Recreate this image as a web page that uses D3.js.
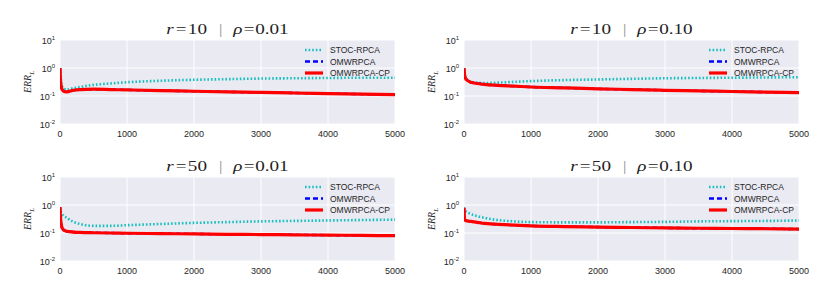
<!DOCTYPE html>
<html>
<head>
<meta charset="utf-8">
<script src="https://cdn.jsdelivr.net/npm/d3@7"></script>
<style>
  body { margin: 0; background: #fff; }
  svg { display: block; }
</style>
</head>
<body>
<svg id="chart" width="830" height="297"></svg>
<script>
'use strict';

// Data Inputs
const steps = [0, 10, 25, 50, 100, 200, 300, 500, 750, 1000, 1500, 2000, 2500, 3000, 3500, 4000, 4500, 5000];
const seriesNames = ['STOC-RPCA', 'OMWRPCA', 'OMWRPCA-CP'];
const panelRanks = [10, 10, 50, 50];
const panelRhos  = ['0.01', '0.10', '0.01', '0.10'];
const xTicks = [0, 1000, 2000, 3000, 4000, 5000];
const yTickExps = [1, 0, -1, -2];

// r = 10, rho = 0.01
const stoc_r10_p01  = [1.0, 0.45, 0.25, 0.19, 0.17, 0.19, 0.21, 0.25, 0.28, 0.31, 0.35, 0.38, 0.40, 0.42, 0.43, 0.44, 0.45, 0.45];
const omw_r10_p01   = [1.0, 0.30, 0.19, 0.15, 0.14, 0.16, 0.17, 0.175, 0.17, 0.165, 0.155, 0.148, 0.14, 0.134, 0.128, 0.122, 0.117, 0.112];
const omwcp_r10_p01 = [1.0, 0.30, 0.19, 0.15, 0.14, 0.16, 0.17, 0.175, 0.17, 0.165, 0.155, 0.148, 0.14, 0.135, 0.128, 0.122, 0.117, 0.112];

// r = 10, rho = 0.10
const stoc_r10_p10  = [1.0, 0.60, 0.45, 0.38, 0.33, 0.30, 0.29, 0.30, 0.32, 0.34, 0.37, 0.39, 0.41, 0.43, 0.44, 0.45, 0.46, 0.47];
const omw_r10_p10   = [1.0, 0.55, 0.42, 0.36, 0.31, 0.28, 0.26, 0.24, 0.225, 0.21, 0.195, 0.18, 0.17, 0.16, 0.152, 0.145, 0.138, 0.131];
const omwcp_r10_p10 = [1.0, 0.55, 0.42, 0.36, 0.31, 0.28, 0.26, 0.24, 0.225, 0.21, 0.195, 0.18, 0.17, 0.16, 0.152, 0.145, 0.138, 0.132];

// r = 50, rho = 0.01
const stoc_r50_p01  = [0.80, 0.60, 0.50, 0.42, 0.35, 0.25, 0.21, 0.18, 0.18, 0.19, 0.21, 0.23, 0.245, 0.26, 0.27, 0.28, 0.29, 0.30];
const omw_r50_p01   = [0.85, 0.30, 0.17, 0.13, 0.115, 0.108, 0.105, 0.102, 0.10, 0.098, 0.095, 0.093, 0.09, 0.088, 0.086, 0.084, 0.082, 0.08];
const omwcp_r50_p01 = [0.85, 0.30, 0.17, 0.13, 0.115, 0.108, 0.105, 0.102, 0.10, 0.098, 0.095, 0.093, 0.09, 0.088, 0.086, 0.084, 0.082, 0.08];

// r = 50, rho = 0.10
const stoc_r50_p10  = [0.80, 0.65, 0.60, 0.55, 0.48, 0.40, 0.35, 0.29, 0.26, 0.245, 0.24, 0.24, 0.245, 0.25, 0.26, 0.265, 0.27, 0.28];
const omw_r50_p10   = [0.80, 0.30, 0.28, 0.27, 0.26, 0.24, 0.22, 0.205, 0.19, 0.18, 0.17, 0.163, 0.157, 0.152, 0.148, 0.145, 0.142, 0.138];
const omwcp_r50_p10 = [0.80, 0.30, 0.28, 0.27, 0.26, 0.24, 0.22, 0.205, 0.19, 0.18, 0.17, 0.163, 0.157, 0.152, 0.148, 0.145, 0.142, 0.138];

const panelSeries = [
    [stoc_r10_p01, omw_r10_p01, omwcp_r10_p01],
    [stoc_r10_p10, omw_r10_p10, omwcp_r10_p10],
    [stoc_r50_p01, omw_r50_p01, omwcp_r50_p01],
    [stoc_r50_p10, omw_r50_p10, omwcp_r50_p10]
];

// Styles
const styles = [
    {color: '#17bfbf', width: 2.6, dash: '1.6,2'},
    {color: '#0000ff', width: 2.4, dash: '5,3'},
    {color: '#ff0000', width: 3.2, dash: null}
];

const plotW = 335,
      plotH = 84;
const origins = [[60, 40], [464, 40], [60, 177], [464, 177]];

const svg = d3.select('#chart');

panelSeries.forEach(function(series, i) {
    const [ox, oy] = origins[i];
    const g = svg.append('g').attr('transform', `translate(${ox},${oy})`);

    const x = d3.scaleLinear().domain([0, 5000]).range([0, plotW]);
    const y = d3.scaleLog().domain([0.01, 10]).range([plotH, 0]);

    g.append('rect')
        .attr('width', plotW)
        .attr('height', plotH)
        .attr('fill', '#eaeaf2');

    // grid
    g.selectAll('line.vgrid')
        .data(xTicks)
        .enter()
        .append('line')
        .attr('x1', d => x(d)).attr('x2', d => x(d))
        .attr('y1', 0).attr('y2', plotH)
        .attr('stroke', '#fff').attr('stroke-width', 1);

    g.selectAll('line.hgrid')
        .data(yTickExps)
        .enter()
        .append('line')
        .attr('x1', 0).attr('x2', plotW)
        .attr('y1', d => y(Math.pow(10, d))).attr('y2', d => y(Math.pow(10, d)))
        .attr('stroke', '#fff').attr('stroke-width', 1);

    // x tick labels
    g.selectAll('text.xt')
        .data(xTicks)
        .enter()
        .append('text')
        .attr('x', d => x(d))
        .attr('y', plotH + 13)
        .attr('text-anchor', 'middle')
        .attr('font-family', 'Liberation Sans, Arial, sans-serif')
        .attr('font-size', '9px')
        .attr('fill', '#262626')
        .text(d => d);

    // y tick labels with superscript
    const yt = g.selectAll('text.yt')
        .data(yTickExps)
        .enter()
        .append('text')
        .attr('x', -5)
        .attr('y', d => y(Math.pow(10, d)) + 3.5)
        .attr('text-anchor', 'end')
        .attr('font-family', 'Liberation Sans, Arial, sans-serif')
        .attr('font-size', '9px')
        .attr('fill', '#262626');
    yt.append('tspan').text('10');
    yt.append('tspan')
        .attr('dy', -4)
        .attr('font-size', '6px')
        .text(d => d);

    // y label
    const yl = g.append('text')
        .attr('transform', `translate(-29,${plotH / 2}) rotate(-90)`)
        .attr('text-anchor', 'middle')
        .attr('font-family', 'Liberation Serif, serif')
        .attr('font-style', 'italic')
        .attr('font-size', '10px')
        .attr('fill', '#262626');
    yl.append('tspan').text('ERR');
    yl.append('tspan').attr('dy', 2.5).attr('font-size', '7px').text('L');

    // title (math-style, stretched like the original)
    const tt = g.append('text')
        .attr('transform', `translate(${plotW / 2},-6) scale(1.32,1)`)
        .attr('text-anchor', 'middle')
        .attr('font-family', 'Liberation Serif, serif')
        .attr('font-size', '14.5px')
        .attr('fill', '#222');
    tt.append('tspan').attr('font-style', 'italic').text('r');
    tt.append('tspan').attr('dx', 1.5).text('=');
    tt.append('tspan').attr('dx', 1).text(panelRanks[i]);
    tt.append('tspan').attr('dx', 9).attr('fill', '#999').text('|');
    tt.append('tspan').attr('dx', 8).attr('font-style', 'italic').text('ρ');
    tt.append('tspan').attr('dx', 1).text('=');
    tt.append('tspan').attr('dx', 0.5).text(panelRhos[i]);

    // clip
    const clipId = 'clip' + i;
    g.append('clipPath').attr('id', clipId)
        .append('rect').attr('width', plotW).attr('height', plotH);

    const line = d3.line()
        .x((d, k) => x(steps[k]))
        .y(d => y(d))
        .curve(d3.curveMonotoneX);

    const lines = g.append('g').attr('clip-path', `url(#${clipId})`);
    series.forEach(function(vals, s) {
        lines.append('path')
            .datum(vals)
            .attr('d', line)
            .attr('fill', 'none')
            .attr('stroke', styles[s].color)
            .attr('stroke-width', styles[s].width)
            .attr('stroke-dasharray', styles[s].dash)
            .attr('stroke-linejoin', 'round');
    });

    // legend
    const leg = g.append('g').attr('transform', `translate(${plotW - 90},10)`);
    seriesNames.forEach(function(name, s) {
        const ly = s * 11.5;
        leg.append('line')
            .attr('x1', 0).attr('x2', 18)
            .attr('y1', ly).attr('y2', ly)
            .attr('stroke', styles[s].color)
            .attr('stroke-width', styles[s].width)
            .attr('stroke-dasharray', styles[s].dash);
        leg.append('text')
            .attr('x', 25)
            .attr('y', ly + 3)
            .attr('font-family', 'Liberation Sans, Arial, sans-serif')
            .attr('font-size', '8.5px')
            .attr('fill', '#262626')
            .text(name);
    });
});
</script>
</body>
</html>
